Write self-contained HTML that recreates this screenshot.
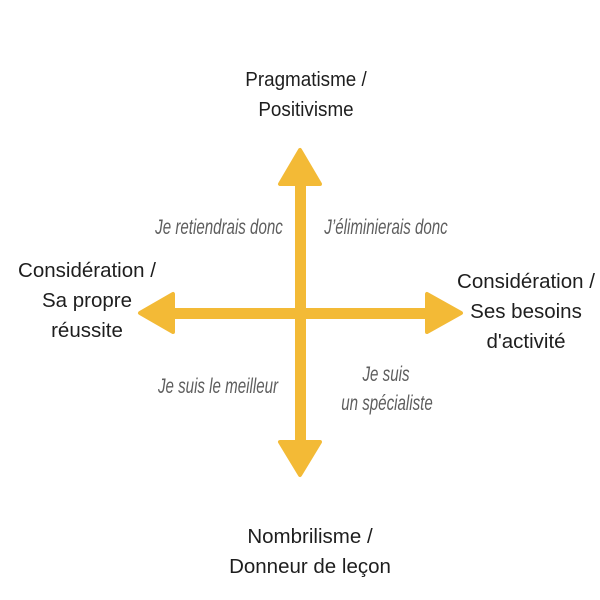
<!DOCTYPE html>
<html><head><meta charset="utf-8"><style>
html,body{margin:0;padding:0;background:#fff;width:600px;height:600px;overflow:hidden}
svg{display:block}
.l{font-family:"Liberation Sans",sans-serif;font-size:20.5px;fill:#1e1e1e;text-anchor:middle}
.i{font-family:"Liberation Sans",sans-serif;font-style:italic;font-size:21px;fill:#5e5e5e;text-anchor:middle}
</style></head><body>
<svg width="600" height="600" viewBox="0 0 600 600" xmlns="http://www.w3.org/2000/svg">
<g fill="#f3ba36" stroke="#f3ba36" stroke-linejoin="round" stroke-width="4">
<rect x="295" y="180" width="11" height="266" stroke="none"/>
<rect x="170" y="308" width="260" height="11" stroke="none"/>
<polygon points="300,150 280,184 320,184"/>
<polygon points="300,475 280,442 320,442"/>
<polygon points="140,313 173,294 173,332"/>
<polygon points="461,313 427,294 427,332"/>
</g>
<g transform="translate(306,0) scale(0.92,1)">
<text class="l" x="0" y="86">Pragmatisme /</text>
<text class="l" x="0" y="116">Positivisme</text>
</g>
<text class="l" x="87" y="277">Considération /</text>
<text class="l" x="87" y="307">Sa propre</text>
<text class="l" x="87" y="337">réussite</text>
<text class="l" x="526" y="288">Considération /</text>
<text class="l" x="526" y="318">Ses besoins</text>
<text class="l" x="526" y="348">d'activité</text>
<text class="l" x="310" y="543">Nombrilisme /</text>
<text class="l" x="310" y="573">Donneur de leçon</text>
<g transform="translate(219,234) scale(0.72,1)"><text class="i" x="0" y="0">Je retiendrais donc</text></g>
<g transform="translate(386,234) scale(0.72,1)"><text class="i" x="0" y="0">J’éliminierais donc</text></g>
<g transform="translate(218,393) scale(0.72,1)"><text class="i" x="0" y="0">Je suis le meilleur</text></g>
<g transform="translate(386,381) scale(0.72,1)"><text class="i" x="0" y="0">Je suis</text></g>
<g transform="translate(387,410) scale(0.72,1)"><text class="i" x="0" y="0">un spécialiste</text></g>
</svg>
</body></html>
